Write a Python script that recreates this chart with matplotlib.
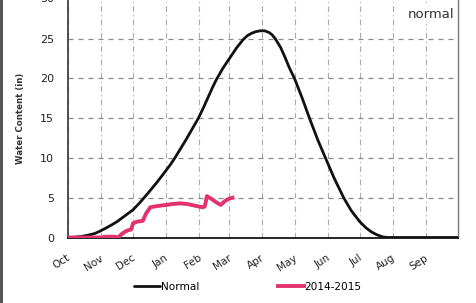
import matplotlib
matplotlib.use("Agg")
import matplotlib.pyplot as plt
from matplotlib.patches import Rectangle
from matplotlib.transforms import ScaledTranslation

# Month labels at the start of each month (days since Oct 1)
month_labels = ["Oct", "Nov", "Dec", "Jan", "Feb", "Mar",
                "Apr", "May", "Jun", "Jul", "Aug", "Sep"]
month_days = [0, 31, 61, 92, 123, 151, 182, 212, 243, 273, 304, 335]

# Normal snow water content (in), days since Oct 1
normal_days = [0, 6, 12, 18, 25, 30, 35, 41, 46, 50, 55, 61, 68, 75, 83,
               91, 96, 100, 105, 110, 116, 122, 127, 131, 135, 139, 145,
               152, 158, 164, 168, 172, 176, 180, 184, 188, 191, 194, 199,
               203, 207, 212, 219, 226, 234, 241, 249, 258, 265, 273, 279,
               284, 289, 294, 297, 300, 365]
normal_vals = [0.0, 0.03, 0.12, 0.27, 0.5, 0.8, 1.15, 1.6, 2.0, 2.4, 2.9,
               3.5, 4.5, 5.6, 6.9, 8.3, 9.2, 10.0, 11.1, 12.2, 13.6, 15.0,
               16.4, 17.6, 18.8, 19.9, 21.3, 22.7, 23.9, 24.9, 25.4, 25.7,
               25.9, 26.0, 26.0, 25.8, 25.5, 25.0, 23.9, 22.7, 21.4, 20.0,
               17.6, 15.0, 12.2, 10.0, 7.5, 5.0, 3.4, 2.0, 1.2, 0.7, 0.35,
               0.1, 0.03, 0.0, 0.0]

# 2014-2015 water content (in)
wy_days = [0, 31, 35, 44, 47, 50, 53, 56, 59, 61, 65, 70, 73, 77, 81, 86,
           92, 97, 105, 112, 119, 126, 128, 130, 135, 139, 143, 147, 151, 154]
wy_vals = [0.0, 0.0, 0.1, 0.1, 0.0, 0.4, 0.7, 0.9, 1.0, 1.8, 2.0, 2.1, 3.0,
           3.8, 3.9, 4.0, 4.1, 4.2, 4.3, 4.2, 4.0, 3.8, 3.9, 5.2, 4.8, 4.4,
           4.1, 4.6, 4.9, 5.0]

yticks = [0, 5, 10, 15, 20, 25, 30]

fig = plt.figure(figsize=(4.77, 3.03), dpi=100)
ax = fig.add_axes([68/477, 1 - 237.5/303, 390/477, 238.5/303])

ax.plot(normal_days, normal_vals, color="#111111", lw=2.0, label="Normal",
        solid_capstyle="round", solid_joinstyle="round", zorder=3)
ax.plot(wy_days, wy_vals, color="#E2336F", lw=2.8, label="2014-2015",
        solid_joinstyle="round", zorder=4)

ax.set_xlim(0, 365)
ax.set_ylim(0, 30)
ax.set_yticks(yticks)
ax.set_yticklabels([str(v) for v in yticks], fontsize=8, color="#222222")
ax.set_xticks(month_days)
ax.set_xticklabels(month_labels, fontsize=7.5, rotation=33,
                   ha="right", va="top", rotation_mode="anchor",
                   color="#222222")
ax.tick_params(axis="both", length=0)
ax.tick_params(axis="y", pad=10)
ax.tick_params(axis="x", pad=11)
off = ScaledTranslation(-1/72, 0, fig.dpi_scale_trans)
for lab in ax.get_xticklabels():
    lab.set_transform(lab.get_transform() + off)
# the top label sits partly above the figure edge, as in the reference
up = ScaledTranslation(0, 0.6/72, fig.dpi_scale_trans)
ax.get_yticklabels()[-1].set_transform(ax.get_yticklabels()[-1].get_transform() + up)

ax.grid(True, axis="y", color="#8a8a8a", lw=0.9, linestyle=(0, (4, 4)))
ax.grid(True, axis="x", color="#aaaaaa", lw=0.8, linestyle=(0, (5, 3, 1, 3)))
ax.set_axisbelow(True)

ax.spines["left"].set_color("#333333")
ax.spines["left"].set_linewidth(1.2)
ax.spines["bottom"].set_color("black")
ax.spines["bottom"].set_linewidth(1.2)
ax.spines["right"].set_color("#777777")
ax.spines["right"].set_linewidth(1.0)
ax.spines["top"].set_color("#333333")
ax.spines["top"].set_linewidth(4.0)

ax.set_ylabel("Water Content (in)", fontsize=6.2, fontweight="bold",
              color="#333333", labelpad=11)

fig.text(431/477, 1 - 15/303, "normal", fontsize=9.5, color="#333333",
         ha="center", va="center", zorder=0.5,
         bbox=dict(facecolor="white", edgecolor="none", pad=1.5))

leg = fig.legend(loc="center", bbox_to_anchor=(0.52, 1 - 287/303), ncol=2,
                 frameon=False, fontsize=7.6, handlelength=2.4,
                 handletextpad=0.1, columnspacing=7.5)

fig.patches.append(Rectangle((0, 0), 3/477, 1, transform=fig.transFigure,
                             facecolor="#555555", edgecolor="none"))

fig.savefig("out.png", dpi=100)
